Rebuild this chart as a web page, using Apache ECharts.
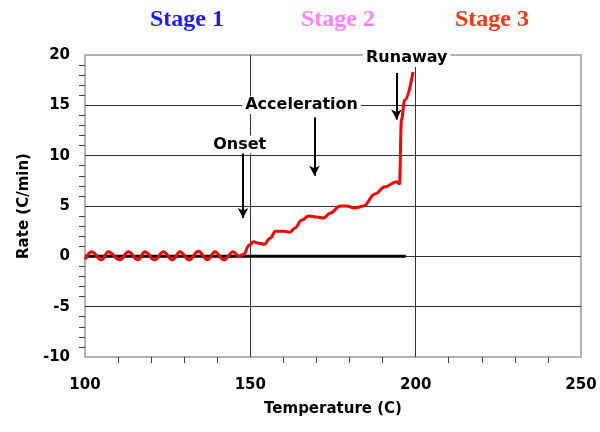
<!DOCTYPE html>
<html>
<head>
<meta charset="utf-8">
<script src="https://cdn.jsdelivr.net/npm/echarts@6/dist/echarts.min.js"></script>
<style>html,body{margin:0;padding:0;background:#fff}#c{width:600px;height:432px}</style>
</head>
<body>
<div id="c"></div>
<script>
// Temperature (C) and rate (C/min) of the measured curve
const temps = [100, 102.0, 105.0, 107.0, 110.5, 113.1, 116.0, 118.1, 121.0, 123.7, 126.5, 128.7, 131.5, 134.3, 137.0, 139.3, 142.0, 144.8, 146.6, 148.0, 149.6, 151.0, 152.5, 154.2, 156.0, 157.6, 160.0, 162.0, 163.4, 165.6, 167.6, 170.0, 172.1, 174.2, 177.2, 179.0, 181.7, 184.2, 187.7, 190.7, 194.2, 195.1, 195.7, 196.7, 199.2];
const rates = [-0.3, 0.45, -0.35, 0.45, -0.35, 0.45, -0.35, 0.45, -0.35, 0.45, -0.35, 0.45, -0.35, 0.5, -0.35, 0.45, -0.35, 0.45, 0.0, 0.2, 1.1, 1.45, 1.3, 1.2, 1.8, 2.5, 2.5, 2.4, 2.8, 3.6, 4.0, 3.9, 3.8, 4.3, 5.0, 5.0, 4.8, 5.0, 6.2, 6.9, 7.4, 7.2, 13.6, 15.5, 18.3];
// Zero baseline
const baseT = [100, 197.0];
const baseR = [0, 0];
// Annotations: label, label position, arrow start and end
const notes = ['Onset', 'Acceleration', 'Runaway'];
const noteT = [146.8, 165.5, 197.3];
const noteR = [11.1, 15.0, 19.7];
const arrowT = [147.8, 169.4, 194.2];
const arrowFrom = [10.3, 13.8, 18.2];
const arrowTo = [3.8, 8.0, 13.6];
// Stage titles
const stages = ['Stage 1', 'Stage 2', 'Stage 3'];
const stageColors = ['#1a1aff', '#ff80ff', '#ff3311'];
const stageX = [187, 338, 492];
// Axis settings
const xMin = 100, xMax = 250, xStep = 50;
const yMin = -10, yMax = 20, yStep = 5;

const chart = echarts.init(document.getElementById('c'), null, {renderer: 'canvas'});
const FAM = '"DejaVu Sans", Arial, sans-serif';
const lblFont = {fontFamily: FAM, fontWeight: 'bold', fontSize: 15, color: '#000'};

const arrowLines = arrowT.map((t, i) => [
  {coord: [t, arrowFrom[i]], symbol: 'none'},
  {coord: [t, arrowTo[i]], symbol: 'arrow', symbolSize: [8, 10]}
]);

chart.setOption({
  animation: false,
  backgroundColor: '#fff',
  grid: {left: 85, right: 19, top: 55, bottom: 75, show: true, borderColor: '#999', borderWidth: 1.5},
  graphic: stages.map((s, i) => ({
    type: 'text', x: stageX[i], y: 8,
    style: {text: s, fill: stageColors[i], font: 'bold 24px "Liberation Serif", "Times New Roman", serif', textAlign: 'center'}
  })),
  xAxis: {
    type: 'value', min: xMin, max: xMax, interval: xStep,
    name: 'Temperature (C)', nameLocation: 'middle', nameGap: 45,
    nameTextStyle: lblFont,
    axisLine: {show: false, onZero: false},
    axisTick: {show: false},
    minorTick: {show: true, splitNumber: 5, length: 6, lineStyle: {color: '#444'}},
    axisLabel: Object.assign({margin: 21}, lblFont),
    splitLine: {show: true, showMinLine: false, showMaxLine: false, lineStyle: {color: '#333', width: 1}}
  },
  yAxis: {
    type: 'value', min: yMin, max: yMax, interval: yStep,
    name: 'Rate (C/min)', nameLocation: 'middle', nameGap: 53, nameRotate: 90,
    nameTextStyle: lblFont,
    axisLine: {show: false, onZero: false},
    axisTick: {show: false},
    minorTick: {show: true, splitNumber: 5, length: 6, lineStyle: {color: '#444'}},
    axisLabel: Object.assign({margin: 15}, lblFont),
    splitLine: {show: true, showMinLine: false, showMaxLine: false, lineStyle: {color: '#333', width: 1}}
  },
  series: [
    {
      type: 'line', data: baseT.map((t, i) => [t, baseR[i]]), symbol: 'none',
      lineStyle: {color: '#000', width: 3}, z: 3
    },
    {
      type: 'line', data: temps.map((t, i) => [t, rates[i]]), symbol: 'none',
      smooth: 0.4, smoothMonotone: 'x',
      lineStyle: {color: '#ff0000', width: 3}, z: 4
    },
    {
      type: 'line', data: [], symbol: 'none', z: 5,
      markLine: {
        silent: true, animation: false,
        lineStyle: {color: '#000', width: 2, type: 'solid'},
        label: {show: false},
        data: arrowLines
      }
    },
    {
      type: 'scatter', symbolSize: 0, z: 6, itemStyle: {opacity: 1},
      data: notes.map((n, i) => ({value: [noteT[i], noteR[i]], name: n})),
      label: {
        show: true, position: 'inside', formatter: p => p.name,
        fontFamily: FAM, fontWeight: 'bold', fontSize: 16, color: '#000', opacity: 1,
        textBorderWidth: 0,
        backgroundColor: '#fff', padding: [1, 3]
      }
    }
  ]
});
</script>
</body>
</html>
